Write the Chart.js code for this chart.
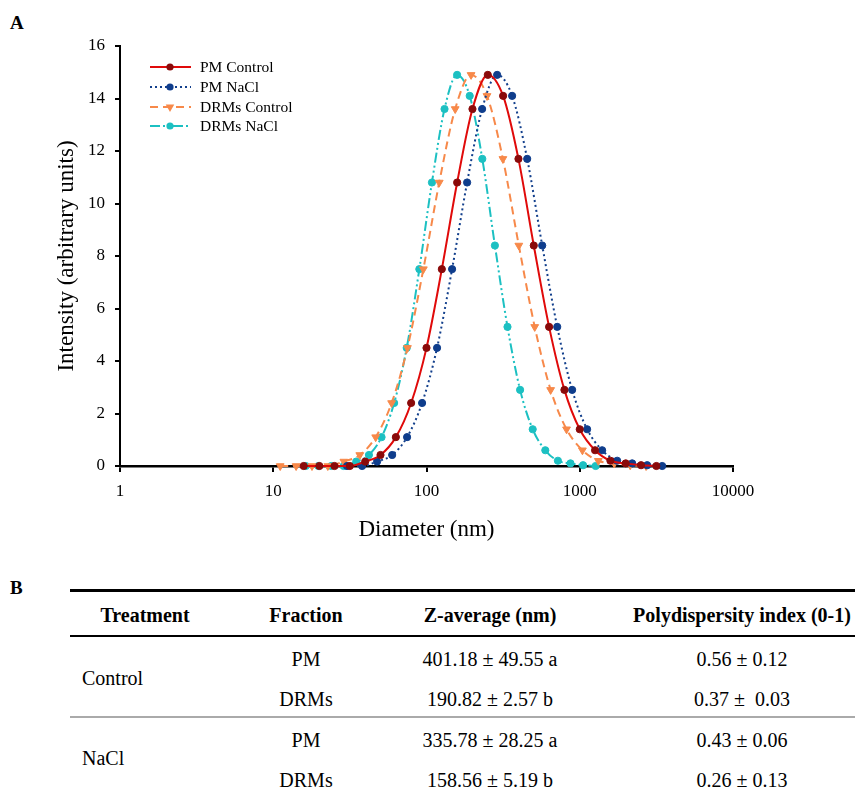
<!DOCTYPE html>
<html><head><meta charset="utf-8">
<script src="https://cdn.jsdelivr.net/npm/chart.js@4.4.1/dist/chart.umd.min.js"></script>
<style>
html,body{margin:0;padding:0;background:#fff;}
body{width:855px;height:792px;position:relative;overflow:hidden;font-family:"Liberation Serif","Times New Roman",serif;color:#000;}
#wrap{position:absolute;left:0;top:0;width:855px;height:560px;}
.lbl{position:absolute;font-weight:bold;font-size:19px;line-height:1;}
.c{position:absolute;font-size:20px;white-space:nowrap;transform:translate(-50%,-50%);line-height:1;}
.l{position:absolute;font-size:20px;white-space:nowrap;transform:translate(0,-50%);line-height:1;}
.b{font-weight:bold;}
.hr{position:absolute;left:70px;width:785px;}
</style>
</head><body>
<div class="lbl" style="left:10px;top:13px;">A</div>
<div id="wrap"><canvas id="c" width="855" height="560"></canvas></div>
<div class="lbl" style="left:10px;top:578px;">B</div>

<div class="hr" style="top:589px;height:3px;background:#000;"></div>
<div class="c b" style="left:145px;top:615px;">Treatment</div>
<div class="c b" style="left:306px;top:615px;">Fraction</div>
<div class="c b" style="left:490px;top:615px;">Z-average (nm)</div>
<div class="c b" style="left:742px;top:615px;">Polydispersity index (0-1)</div>
<div class="hr" style="top:635px;height:2px;background:#000;"></div>

<div class="l" style="left:82px;top:678px;">Control</div>
<div class="c" style="left:306px;top:659px;">PM</div>
<div class="c" style="left:490px;top:659px;">401.18 ± 49.55 a</div>
<div class="c" style="left:742px;top:659px;">0.56 ± 0.12</div>
<div class="c" style="left:306px;top:699px;">DRMs</div>
<div class="c" style="left:490px;top:699px;">190.82 ± 2.57 b</div>
<div class="c" style="left:742px;top:699px;">0.37 ±&nbsp; 0.03</div>
<div class="hr" style="top:716px;height:2px;background:#aaa;"></div>

<div class="l" style="left:82px;top:758px;">NaCl</div>
<div class="c" style="left:306px;top:740px;">PM</div>
<div class="c" style="left:490px;top:740px;">335.78 ± 28.25 a</div>
<div class="c" style="left:742px;top:740px;">0.43 ± 0.06</div>
<div class="c" style="left:306px;top:780px;">DRMs</div>
<div class="c" style="left:490px;top:780px;">158.56 ± 5.19 b</div>
<div class="c" style="left:742px;top:780px;">0.26 ± 0.13</div>

<script>
// ---- data ----
const seriesNames = ['PM Control', 'PM NaCl', 'DRMs Control', 'DRMs NaCl'];

const pmControlDiameter = [15.8, 20.0, 25.1, 31.6, 39.8, 50.1, 63.1, 79.4, 100, 125.9, 158.5, 199.5, 251.2, 316.2, 398.1, 501.2, 631.0, 794.3, 1000, 1258.9, 1584.9, 1995.3, 2511.9, 3162.3];
const pmControlIntensity = [0, 0, 0, 0, 0.17, 0.42, 1.1, 2.4, 4.5, 7.5, 10.8, 13.6, 14.9, 14.1, 11.7, 8.4, 5.3, 2.9, 1.4, 0.6, 0.2, 0.1, 0.03, 0];

const pmNaClDiameter = [30.3, 38.0, 47.6, 59.7, 74.7, 93.6, 117.2, 146.9, 184.1, 230.7, 289, 362, 454, 569, 713, 892, 1117, 1400, 1754, 2198, 2754, 3451];
const pmNaClIntensity = [0, 0, 0.17, 0.42, 1.1, 2.4, 4.5, 7.5, 10.8, 13.6, 14.9, 14.1, 11.7, 8.4, 5.3, 2.9, 1.4, 0.6, 0.2, 0.1, 0.03, 0];

const drmsControlDiameter = [11.1, 14.1, 17.9, 22.7, 28.9, 36.7, 46.6, 59.2, 75.1, 95.4, 121.1, 153.9, 195.4, 248.2, 315.2, 400.4, 508.4, 645.7, 820.0, 1041, 1322, 1680, 2133, 2709];
const drmsControlIntensity = [0, 0, 0, 0, 0.17, 0.42, 1.1, 2.4, 4.5, 7.5, 10.8, 13.6, 14.9, 14.1, 11.7, 8.4, 5.3, 2.9, 1.4, 0.6, 0.2, 0.1, 0.03, 0];

const drmsNaClDiameter = [16.3, 19.7, 23.9, 28.8, 34.8, 42.1, 50.9, 61.5, 74.3, 89.8, 108.5, 131.1, 158.4, 191.4, 231.3, 279.5, 337.7, 408.1, 493.2, 595.9, 720.1, 870.1, 1051, 1270];
const drmsNaClIntensity = [0, 0, 0, 0, 0.17, 0.42, 1.1, 2.4, 4.5, 7.5, 10.8, 13.6, 14.9, 14.1, 11.7, 8.4, 5.3, 2.9, 1.4, 0.6, 0.2, 0.1, 0.03, 0];

const xTickValues = [1, 10, 100, 1000, 10000];
const yTickValues = [0, 2, 4, 6, 8, 10, 12, 14, 16];

// ---- chart ----
const FONT = '"Liberation Serif","Times New Roman",serif';
function pts(xs, ys){ return xs.map((x,i)=>({x:x, y:ys[i]})); }

const datasets = [
  {label: seriesNames[0], data: pts(pmControlDiameter, pmControlIntensity),
   borderColor:'#e00a0a', backgroundColor:'#8a0a0a', pointBorderColor:'#8a0a0a', pointBackgroundColor:'#8a0a0a',
   borderWidth:2, borderDash:[], pointStyle:'circle', pointRadius:3.6, pointRotation:0},
  {label: seriesNames[1], data: pts(pmNaClDiameter, pmNaClIntensity),
   borderColor:'#123f8c', backgroundColor:'#0f3d8c', pointBorderColor:'#0f3d8c', pointBackgroundColor:'#0f3d8c',
   borderWidth:2, borderDash:[2,3], pointStyle:'circle', pointRadius:3.6, pointRotation:0},
  {label: seriesNames[2], data: pts(drmsControlDiameter, drmsControlIntensity),
   borderColor:'#f7894a', backgroundColor:'#f7894a', pointBorderColor:'#f7894a', pointBackgroundColor:'#f7894a',
   borderWidth:2, borderDash:[8,5], pointStyle:'triangle', pointRadius:4.5, pointRotation:180},
  {label: seriesNames[3], data: pts(drmsNaClDiameter, drmsNaClIntensity),
   borderColor:'#1cc0c2', backgroundColor:'#1cc0c2', pointBorderColor:'#1cc0c2', pointBackgroundColor:'#1cc0c2',
   borderWidth:2, borderDash:[10,3,2,3,2,3], pointStyle:'circle', pointRadius:3.6, pointRotation:0}
];
datasets.forEach(d=>{ d.cubicInterpolationMode='monotone'; d.fill=false; d.clip=12; d.pointBorderWidth=1; });

function drawMarker(ctx, ds, x, y){
  ctx.save();
  ctx.fillStyle = ds.pointBackgroundColor;
  ctx.strokeStyle = ds.pointBorderColor;
  ctx.setLineDash([]);
  ctx.beginPath();
  const r = ds.pointRadius;
  if (ds.pointStyle === 'triangle') {
    ctx.moveTo(x - r*0.95, y - r*0.55);
    ctx.lineTo(x + r*0.95, y - r*0.55);
    ctx.lineTo(x, y + r*1.1);
    ctx.closePath();
  } else {
    ctx.arc(x, y, r, 0, Math.PI*2);
  }
  ctx.fill();
  ctx.restore();
}

const legendPlugin = {
  id: 'insideLegend',
  afterDraw(chart){
    const ctx = chart.ctx;
    const rows = [67, 87, 107, 126];
    chart.data.datasets.forEach((ds, i)=>{
      const y = rows[i];
      ctx.save();
      ctx.strokeStyle = ds.borderColor;
      ctx.lineWidth = ds.borderWidth;
      ctx.setLineDash(ds.borderDash);
      ctx.beginPath();
      ctx.moveTo(150, y); ctx.lineTo(191, y);
      ctx.stroke();
      ctx.restore();
      drawMarker(ctx, ds, 170, y);
      ctx.save();
      ctx.fillStyle = '#000';
      ctx.font = '15.5px ' + FONT;
      ctx.textBaseline = 'middle';
      ctx.textAlign = 'left';
      ctx.fillText(ds.label, 200, y + 1);
      ctx.restore();
    });
  }
};

new Chart(document.getElementById('c'), {
  type: 'line',
  data: { datasets: datasets },
  plugins: [legendPlugin],
  options: {
    responsive: false, animation: false,
    layout: { padding: { left: 0, top: 46, right: 122, bottom: 0 } },
    plugins: { legend: { display: false }, tooltip: { enabled: false } },
    scales: {
      x: {
        type: 'logarithmic', min: 1, max: 10000,
        afterBuildTicks: s => { s.ticks = xTickValues.map(v => ({ value: v })); },
        afterFit: s => { s.height = 94; },
        ticks: { callback: v => String(v), color: '#000', font: { family: FONT, size: 17 }, padding: 9, autoSkip: false, maxRotation: 0 },
        grid: { drawOnChartArea: false, drawTicks: true, tickLength: 6, color: '#000', lineWidth: 2 },
        border: { display: true, color: '#000', width: 2.5 },
        title: { display: true, text: 'Diameter (nm)', color: '#000', font: { family: FONT, size: 23 }, padding: { top: 0, bottom: 16 } }
      },
      y: {
        min: 0, max: 16,
        afterBuildTicks: s => { s.ticks = yTickValues.map(v => ({ value: v })); },
        afterFit: s => { s.width = 120; },
        ticks: { color: '#000', font: { family: FONT, size: 17 }, padding: 10 },
        grid: { drawOnChartArea: false, drawTicks: true, tickLength: 5, color: '#000', lineWidth: 2 },
        border: { display: true, color: '#000', width: 2 },
        title: { display: true, text: 'Intensity (arbitrary units)', color: '#000', font: { family: FONT, size: 23 }, padding: { top: 53, bottom: 0 } }
      }
    }
  }
});
</script>
</body></html>
